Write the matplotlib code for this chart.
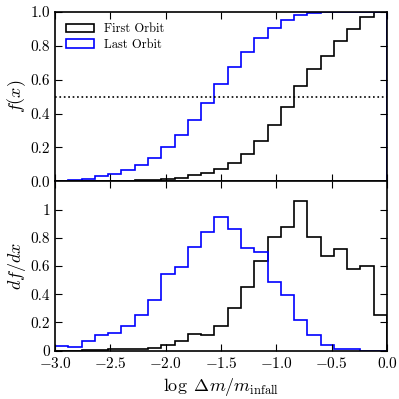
import matplotlib
matplotlib.use('Agg')
import matplotlib.pyplot as plt
from matplotlib.patches import Patch
import numpy as np

plt.rcParams['font.family'] = 'serif'
plt.rcParams['font.serif'] = ['cmr10']
plt.rcParams['mathtext.fontset'] = 'cm'
plt.rcParams['axes.formatter.use_mathtext'] = True
plt.rcParams['axes.unicode_minus'] = True

# 25 bins of log(dm/m_infall) from -3 to 0
edges = np.linspace(-3.0, 0.0, 26)
first_orbit = [0.0, 0.0, 0.003, 0.005, 0.010, 0.012, 0.015, 0.020, 0.041, 0.069,
               0.119, 0.114, 0.178, 0.302, 0.449, 0.634, 0.805, 0.876, 1.061, 0.805,
               0.669, 0.724, 0.579, 0.603, 0.254]
last_orbit = [0.036, 0.028, 0.069, 0.109, 0.128, 0.178, 0.251, 0.358, 0.543, 0.591,
              0.735, 0.842, 0.949, 0.859, 0.731, 0.700, 0.487, 0.396, 0.218, 0.109,
              0.041, 0.010, 0.010, 0.0, 0.0]

width = np.diff(edges)
pdf_first = np.array(first_orbit)
pdf_last = np.array(last_orbit)
cdf_first = np.cumsum(pdf_first * width) / np.sum(pdf_first * width)
cdf_last = np.cumsum(pdf_last * width) / np.sum(pdf_last * width)

fig, (ax1, ax2) = plt.subplots(2, 1, sharex=True, figsize=(3.99, 3.99), dpi=100)
fig.subplots_adjust(left=0.138, right=0.970, top=0.970, bottom=0.121, hspace=0)

ax1.stairs(cdf_first, edges, color='k', lw=1.2)
ax1.stairs(cdf_last, edges, color='b', lw=1.2)
ax1.axhline(0.5, color='k', ls=':', lw=1.2)
ax1.set_ylim(0, 1)
ax1.set_yticks([0, 0.2, 0.4, 0.6, 0.8, 1.0])
ax1.set_yticklabels(['0.0', '0.2', '0.4', '0.6', '0.8', '1.0'])
ax1.set_ylabel(r'$f(x)$', size=13, labelpad=2)
handles = [Patch(facecolor='none', edgecolor='k', lw=1.2, label='First Orbit'),
           Patch(facecolor='none', edgecolor='b', lw=1.2, label='Last Orbit')]
ax1.legend(handles=handles, loc='upper left', frameon=False, fontsize=9,
           handlelength=2.2, borderaxespad=0.5, labelspacing=0.3)

ax2.stairs(pdf_first, edges, color='k', lw=1.2)
ax2.stairs(pdf_last, edges, color='b', lw=1.2)
ax2.set_ylim(0, 1.2)
ax2.set_yticks([0, 0.2, 0.4, 0.6, 0.8, 1.0])
ax2.set_yticklabels(['0', '0.2', '0.4', '0.6', '0.8', '1'])
ax2.set_ylabel(r'$df/dx$', size=13, labelpad=2)
ax2.set_xlim(-3, 0)
ax2.set_xticks([-3.0, -2.5, -2.0, -1.5, -1.0, -0.5, 0.0])
ax2.set_xticklabels([r'$-3.0$', r'$-2.5$', r'$-2.0$', r'$-1.5$', r'$-1.0$', r'$-0.5$', r'$0.0$'])
ax2.set_xlabel(r'$\log\ \Delta m/m_{\rm infall}$', size=13)

for ax in (ax1, ax2):
    ax.tick_params(direction='in', top=True, right=True, length=5, labelsize=11)
    for s in ax.spines.values():
        s.set_linewidth(1.2)

plt.savefig('out.png', dpi=100)
